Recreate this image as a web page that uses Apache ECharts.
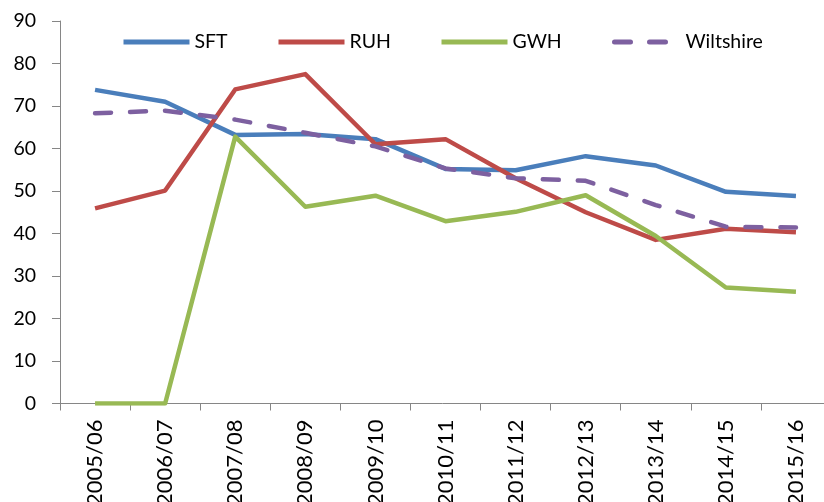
<!DOCTYPE html>
<html><head><meta charset="utf-8">
<script src="https://cdn.jsdelivr.net/npm/echarts@6/dist/echarts.min.js"></script>
<style>html,body{margin:0;padding:0;background:#fff}#c{width:824px;height:502px}</style>
</head><body><div id="c"></div>
<script>
const categories = ['2005/06','2006/07','2007/08','2008/09','2009/10','2010/11','2011/12','2012/13','2013/14','2014/15','2015/16'];
const sft = [73.8, 71.0, 63.2, 63.4, 62.2, 55.2, 54.9, 58.2, 56.0, 49.8, 48.8];
const ruh = [45.9, 50.1, 73.9, 77.5, 61.0, 62.2, 53.0, 45.0, 38.5, 41.1, 40.3];
const gwh = [0, 0, 62.8, 46.3, 48.9, 42.9, 45.1, 49.0, 39.4, 27.3, 26.3];
const wilts = [68.3, 68.9, 66.8, 63.7, 60.5, 55.3, 53.0, 52.4, 46.7, 41.6, 41.4];
const yTicks = [0, 10, 20, 30, 40, 50, 60, 70, 80, 90];
const seriesNames = ['SFT', 'RUH', 'GWH', 'Wiltshire'];

const font = 'Lato, "Liberation Sans", sans-serif';
const chart = echarts.init(document.getElementById('c'), null, {renderer: 'canvas'});
function line(name, data, color, dash) {
  return {
    name, type: 'line', data, symbol: 'none', animation: false,
    lineStyle: {color, width: 4.5, type: dash ? [16, 19] : 'solid', cap: dash ? 'round' : 'butt', join: 'round'},
    itemStyle: {color}
  };
}
const legendLefts = [121, 276, 439, 612];
const legends = seriesNames.map((n, i) => ({
  left: legendLefts[i], top: 32, padding: 0, itemWidth: 66, itemHeight: 24, itemGap: 0,
  textStyle: {fontFamily: font, fontSize: 19.5, color: '#000'},
  itemStyle: {opacity: 0},
  lineStyle: {width: 5},
  data: [n]
}));
chart.setOption({
  animation: false,
  textStyle: {fontFamily: font},
  grid: {left: 60, top: 21, width: 771, height: 382.5, containLabel: false, outerBoundsMode: 'none'},
  legend: legends,
  xAxis: {
    type: 'category', data: categories, boundaryGap: true,
    axisLine: {lineStyle: {color: '#868686', width: 1}},
    axisTick: {show: true, length: 7, inside: false, alignWithLabel: false, lineStyle: {color: '#868686'}},
    axisLabel: {rotate: 90, margin: 16, fontSize: 22, color: '#000', fontFamily: font, interval: 0}
  },
  yAxis: {
    type: 'value', min: yTicks[0], max: yTicks[yTicks.length - 1], interval: 10,
    splitLine: {show: false},
    axisLine: {show: true, lineStyle: {color: '#868686', width: 1}},
    axisTick: {show: true, length: 8, lineStyle: {color: '#868686'}},
    axisLabel: {margin: 24, fontSize: 19.5, color: '#000', fontFamily: font}
  },
  series: [
    line('SFT', sft, '#4a7ebb'),
    line('RUH', ruh, '#be4b48'),
    line('GWH', gwh, '#98b954'),
    line('Wiltshire', wilts, '#7d60a0', true)
  ]
});
</script></body></html>
